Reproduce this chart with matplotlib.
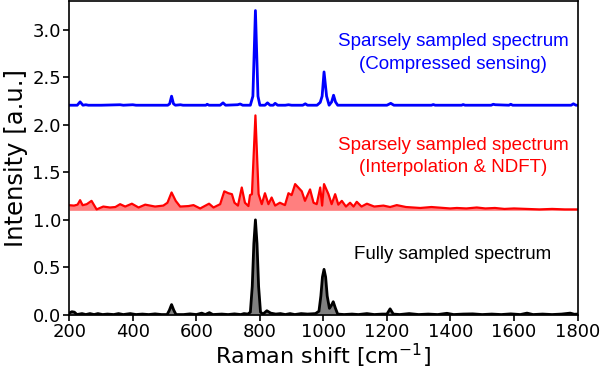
import matplotlib
matplotlib.use("Agg")
import matplotlib.pyplot as plt
import numpy as np

# ---- data ----
blue_x = [200, 225, 234, 243, 252, 260, 300, 360, 370, 400, 410, 460, 510, 516, 522, 528, 534, 550, 558,
          630, 634, 640, 675, 684, 692, 730, 738, 746, 770, 778, 786, 794, 800, 816, 824, 832, 842, 848, 856,
          880, 890, 900, 935, 943, 950, 980, 990, 996, 1002, 1010, 1018, 1026, 1032, 1038, 1045, 1100, 1200,
          1212, 1222, 1340, 1346, 1352, 1435, 1440, 1446, 1528, 1535, 1541, 1584, 1590, 1596, 1780, 1787,
          1795, 1800]
blue_y = [2.205, 2.205, 2.24, 2.205, 2.21, 2.205, 2.205, 2.21, 2.205, 2.21, 2.205, 2.205, 2.205, 2.22, 2.30,
          2.22, 2.205, 2.21, 2.205, 2.205, 2.215, 2.205, 2.205, 2.23, 2.205, 2.21, 2.218, 2.205, 2.205, 2.3,
          3.2, 2.3, 2.205, 2.205, 2.23, 2.205, 2.205, 2.225, 2.205, 2.205, 2.21, 2.205, 2.205, 2.22, 2.205,
          2.205, 2.235, 2.3, 2.555, 2.3, 2.205, 2.24, 2.31, 2.24, 2.205, 2.205, 2.205, 2.225, 2.205, 2.205,
          2.212, 2.205, 2.205, 2.212, 2.205, 2.205, 2.215, 2.21, 2.205, 2.215, 2.205, 2.205, 2.22, 2.205, 2.205]

red_x = [200, 215, 226, 234, 242, 255, 270, 286, 307, 328, 345, 360, 376, 397, 418, 439, 470, 496, 509, 522,
         535, 549, 575, 591, 612, 640, 654, 675, 688, 701, 712, 720, 731, 743, 753, 764, 769, 775, 786, 796,
         806, 816, 827, 837, 848, 863, 879, 890, 900, 911, 921, 932, 942, 958, 969, 979, 990, 996, 1002,
         1016, 1026, 1037, 1047, 1058, 1071, 1084, 1095, 1105, 1120, 1137, 1160, 1189, 1210, 1231, 1260,
         1305, 1340, 1399, 1420, 1450, 1483, 1510, 1540, 1570, 1600, 1640, 1680, 1720, 1760, 1800]
red_y = [1.154, 1.15, 1.16, 1.207, 1.154, 1.165, 1.20, 1.11, 1.14, 1.13, 1.135, 1.165, 1.14, 1.17, 1.13, 1.16,
         1.14, 1.15, 1.18, 1.288, 1.20, 1.14, 1.145, 1.155, 1.12, 1.17, 1.13, 1.165, 1.30, 1.28, 1.27, 1.18,
         1.15, 1.34, 1.18, 1.145, 1.26, 1.27, 2.098, 1.27, 1.165, 1.28, 1.165, 1.235, 1.15, 1.18, 1.155, 1.28,
         1.26, 1.376, 1.34, 1.30, 1.20, 1.32, 1.18, 1.165, 1.34, 1.15, 1.376, 1.27, 1.165, 1.27, 1.16, 1.20,
         1.14, 1.18, 1.14, 1.19, 1.14, 1.17, 1.14, 1.15, 1.135, 1.155, 1.135, 1.125, 1.135, 1.12, 1.125,
         1.12, 1.13, 1.12, 1.125, 1.115, 1.12, 1.115, 1.11, 1.115, 1.11, 1.11]
red_base = 1.1

black_x = [200, 208, 216, 224, 240, 252, 265, 278, 290, 305, 320, 340, 355, 370, 392, 410, 430, 450, 470, 490,
           508, 515, 522, 529, 536, 560, 580, 600, 617, 628, 641, 652, 680, 700, 720, 740, 750, 762, 770, 776,
           781, 786, 791, 796, 802, 810, 822, 834, 850, 865, 880, 895, 910, 930, 950, 975, 986, 992, 997, 1002,
           1007, 1012, 1019, 1025, 1031, 1038, 1045, 1065, 1090, 1110, 1137, 1160, 1185, 1200, 1210, 1220,
           1240, 1270, 1300, 1330, 1360, 1389, 1410, 1440, 1470, 1500, 1530, 1560, 1590, 1620, 1641, 1660,
           1690, 1720, 1750, 1777, 1790, 1800]
black_y = [0.02, 0.035, 0.03, 0.005, 0.015, 0.005, 0.015, 0.005, 0.015, 0.005, 0.01, 0.005, 0.015, 0.005,
           0.015, 0.005, 0.01, 0.005, 0.012, 0.005, 0.005, 0.05, 0.11, 0.05, 0.005, 0.005, 0.012, 0.005, 0.02,
           0.005, 0.025, 0.005, 0.01, 0.005, 0.012, 0.005, 0.015, 0.01, 0.03, 0.3, 0.75, 1.0, 0.75, 0.3, 0.03,
           0.01, 0.045, 0.02, 0.01, 0.015, 0.005, 0.015, 0.005, 0.015, 0.01, 0.015, 0.04, 0.2, 0.4, 0.48, 0.4,
           0.2, 0.07, 0.1, 0.14, 0.07, 0.01, 0.005, 0.01, 0.005, 0.015, 0.005, 0.01, 0.01, 0.065, 0.01, 0.005,
           0.015, 0.005, 0.01, 0.005, 0.018, 0.005, 0.01, 0.012, 0.005, 0.01, 0.005, 0.012, 0.005, 0.02,
           0.005, 0.01, 0.005, 0.01, 0.02, 0.008, 0.01]

labels_blue = ["Sparsely sampled spectrum", "(Compressed sensing)"]
labels_red = ["Sparsely sampled spectrum", "(Interpolation & NDFT)"]
label_black = "Fully sampled spectrum"
xticks = [200, 400, 600, 800, 1000, 1200, 1400, 1600, 1800]
yticks = [0.0, 0.5, 1.0, 1.5, 2.0, 2.5, 3.0]

fig = plt.figure(figsize=(6.0, 3.7), dpi=100)
ax = fig.add_axes([0.1155, 0.1486, 0.847, 0.8486])

ax.plot(blue_x, blue_y, color="#0000ff", lw=2)
ax.fill_between(red_x, red_base, red_y, color="#ff0000", alpha=0.5, lw=0)
ax.plot(red_x, red_y, color="#ff0000", lw=1.6)
ax.fill_between(black_x, 0, black_y, color="#808080", lw=0)
ax.plot(black_x, black_y, color="black", lw=2)

ax.set_xlim(200, 1800)
ax.set_ylim(0, 3.3)
ax.set_xticks(xticks)
ax.set_yticks(yticks)
ax.set_yticklabels([f"{v:.1f}" for v in yticks])
ax.tick_params(labelsize=13, direction="out", length=4, width=1.2, pad=2)
for s in ax.spines.values():
    s.set_linewidth(1.2)

ax.set_xlabel("Raman shift [cm$^{-1}$]", fontsize=16, labelpad=0)
ax.set_ylabel("Intensity [a.u.]", fontsize=17.5, labelpad=3)

tf = dict(family=["Liberation Sans", "DejaVu Sans"], fontsize=13.5,
          ha="center", va="center")
ax.text(1408, 2.87, labels_blue[0], color="#0000ff", **tf)
ax.text(1408, 2.63, labels_blue[1], color="#0000ff", **tf)
ax.text(1408, 1.78, labels_red[0], color="#ff0000", **tf)
ax.text(1408, 1.55, labels_red[1], color="#ff0000", **tf)
ax.text(1408, 0.64, label_black, color="black", **tf)

fig.savefig("out.png", dpi=100)
